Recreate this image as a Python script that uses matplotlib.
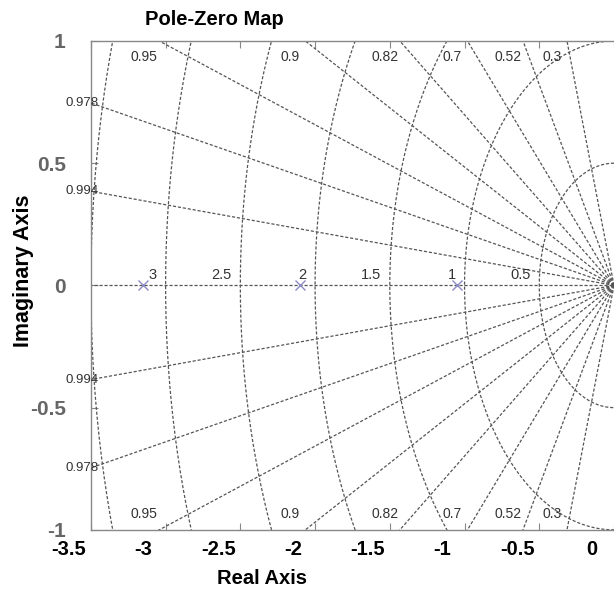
import numpy as np
import matplotlib
matplotlib.use("Agg")
import matplotlib.pyplot as plt
import matplotlib.transforms as mtransforms

# Polos del sistema (parte real, parte imaginaria)
polos_re = [-3.15, -2.1, -1.05]
polos_im = [0.0, 0.0, 0.0]

# Rejilla: factores de amortiguamiento y frecuencias naturales
zetas = [0.994, 0.978, 0.95, 0.9, 0.82, 0.7, 0.52, 0.3]
wns = [0.5, 1.0, 1.5, 2.0, 2.5, 3.0, 3.5]
wn_etiquetas = ["0.5", "1", "1.5", "2", "2.5", "3", "3.5"]

xticks = [-3.5, -3, -2.5, -2, -1.5, -1, -0.5, 0]
xtick_labels = ["-3.5", "-3", "-2.5", "-2", "-1.5", "-1", "-0.5", "0"]
yticks = [-1, -0.5, 0, 0.5, 1]
ytick_labels = ["-1", "-0.5", "0", "0.5", "1"]

xmin, xmax = -3.5, 0.0
ymin, ymax = -1.0, 1.0

fuente = ["Liberation Sans", "DejaVu Sans"]
gris = "#555555"

fig = plt.figure(figsize=(6.14, 5.94), dpi=100)
ax = fig.add_axes([0.148, 0.108, 0.852, 0.823])

estilo = dict(color=gris, lw=0.9, ls=(0, (2.5, 1.5)))

# Lineas de amortiguamiento constante (rayos desde el origen)
ax.plot([xmin - 1, 0], [0, 0], **estilo)
for z in zetas:
    th = np.arccos(z)
    r = np.array([0, 20])
    ax.plot(-r * np.cos(th), r * np.sin(th), **estilo)
    ax.plot(-r * np.cos(th), -r * np.sin(th), **estilo)
    # etiquetas donde el rayo sale del area
    pend = np.tan(th)
    y_izq = -xmin * pend
    if y_izq < ymax:
        for s in [1, -1]:
            ax.text(xmin + 0.05, s * y_izq, str(z), ha="right", va="center",
                    fontsize=9.5, color="#333333", family=fuente, clip_on=False)
    else:
        x_sal = -ymax / pend
        for s in [1, -1]:
            ax.text(x_sal - 0.1, s * 0.935, str(z), ha="center", va="center",
                    fontsize=10, color="#333333", family=fuente)

# Circulos de frecuencia natural constante
t = np.linspace(np.pi / 2, 3 * np.pi / 2, 400)
for wn, et in zip(wns, wn_etiquetas):
    ax.plot(wn * np.cos(t), wn * np.sin(t), **estilo)
    ax.text(-wn - 0.06, 0.012, et, ha="right", va="bottom", fontsize=10.5,
            color="#333333", family=fuente, clip_on=True)

# Polos
ax.plot(polos_re, polos_im, "x", color="#8c8cc4", ms=7, mew=1.0)

ax.set_xlim(xmin, xmax)
ax.set_ylim(ymin, ymax)

for lado in ["left", "top", "bottom"]:
    ax.spines[lado].set_color("#888888")
    ax.spines[lado].set_linewidth(1.0)
ax.spines["right"].set_visible(False)

ax.set_xticks(xticks)
ax.set_xticklabels(xtick_labels, fontsize=14.5, fontweight="bold", family=fuente)
ax.set_yticks(yticks)
ax.set_yticklabels(ytick_labels, fontsize=15, fontweight="bold", family=fuente,
                   color="#666666")
ax.tick_params(axis="x", direction="in", top=True, length=5, color="#888888", pad=7)
ax.tick_params(axis="y", direction="in", right=False, length=5, color="#888888", pad=18)

# las etiquetas del eje x quedan desplazadas a la izquierda en la imagen original
desp = mtransforms.ScaledTranslation(-22 / 100, 0, fig.dpi_scale_trans)
for lab in ax.get_xticklabels():
    lab.set_transform(lab.get_transform() + desp)

ax.set_xlabel("Real Axis", fontsize=14.5, fontweight="bold", family=fuente)
ax.xaxis.set_label_coords(0.327, -0.08)
ax.set_ylabel("Imaginary Axis", fontsize=15.5, fontweight="bold", family=fuente)
ax.yaxis.set_label_coords(-0.108, 0.53)

ax.text(0.237, 1.043, "Pole-Zero Map", transform=ax.transAxes, ha="center",
        va="center", fontsize=14.5, fontweight="bold", family=fuente)

fig.savefig("out.png", dpi=100)
